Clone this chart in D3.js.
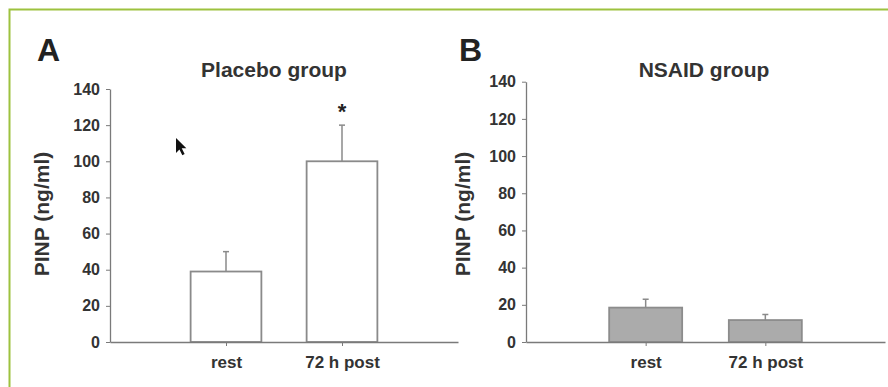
<!DOCTYPE html>
<head>
    <script src="https://d3js.org/d3.v7.min.js"></script>
</head>
<style>
body {
    margin: 0;
    background: #fff;
    font-family: "Liberation Sans", Arial, Helvetica, sans-serif;
}
text {
    font-weight: bold;
}
</style>
<body>
<svg></svg>
<script>

    // Data
    var categories = ["rest", "72 h post"];
    var placeboMean = [39, 100];
    var placeboErr = [11, 20];
    var nsaidMean = [18.5, 11.8];
    var nsaidErr = [4.5, 3];
    var yTicks = [0, 20, 40, 60, 80, 100, 120, 140];
    var significant = [false, true];

    var width = 888;
    var height = 387;

    var svg = d3.select('svg')
        .attr('width', width)
        .attr('height', height);

    // green frame (top and left edges only)
    svg.append('path')
        .attr('d', 'M9.5,' + height + 'V9.5H' + width)
        .attr('fill', 'none')
        .attr('stroke', '#9dc23f')
        .attr('stroke-width', 2);

    var panels = [
        { letter: "A", title: "Placebo group", mean: placeboMean, err: placeboErr,
          x0: 110, x1: 458, yTop: 89, yBot: 342, letterX: 37, titleX: 274, labelX: 49,
          fill: "#fff", stroke: "#8a8a8a", stars: significant },
        { letter: "B", title: "NSAID group", mean: nsaidMean, err: nsaidErr,
          x0: 526, x1: 885, yTop: 81.7, yBot: 342, letterX: 459, titleX: 704, labelX: 469.5,
          fill: "#ababab", stroke: "#8c8c8c", stars: [false, false] }
    ];

    panels.forEach(drawPanel);

    function drawPanel(p) {
        var g = svg.append('g');

        var x = d3.scalePoint()
            .domain(categories)
            .range([p.x0, p.x1])
            .padding(1);

        var y = d3.scaleLinear()
            .domain([0, 140])
            .range([p.yBot, p.yTop]);

        var bw = x.step() * 0.61;

        // y axis
        var ya = g.append('g')
            .attr('transform', 'translate(' + p.x0 + ',0)')
            .call(d3.axisLeft(y).tickValues(yTicks).tickSize(4).tickSizeOuter(0).tickPadding(6));
        ya.select('.domain').attr('stroke', '#7a7a7a').attr('stroke-width', 1.3);
        ya.selectAll('.tick line').attr('stroke', '#7a7a7a');
        ya.selectAll('.tick text')
            .attr('fill', '#333')
            .style('font-size', '16px')
            .style('font-family', '"Liberation Sans", Arial, sans-serif');

        // bars
        g.selectAll('rect.bar').data(p.mean).enter().append('rect')
            .attr('class', 'bar')
            .attr('x', function (d, i) { return x(categories[i]) - bw / 2; })
            .attr('y', function (d) { return y(d); })
            .attr('width', bw)
            .attr('height', function (d) { return y(0) - y(d); })
            .attr('fill', p.fill)
            .attr('stroke', p.stroke)
            .attr('stroke-width', 1.8);

        // error bars
        g.selectAll('line.err').data(p.mean).enter().append('line')
            .attr('class', 'err')
            .attr('x1', function (d, i) { return x(categories[i]); })
            .attr('x2', function (d, i) { return x(categories[i]); })
            .attr('y1', function (d) { return y(d); })
            .attr('y2', function (d, i) { return y(d + p.err[i]); })
            .attr('stroke', '#8a8a8a')
            .attr('stroke-width', 1.5);
        g.selectAll('line.cap').data(p.mean).enter().append('line')
            .attr('class', 'cap')
            .attr('x1', function (d, i) { return x(categories[i]) - 3; })
            .attr('x2', function (d, i) { return x(categories[i]) + 3; })
            .attr('y1', function (d, i) { return y(d + p.err[i]); })
            .attr('y2', function (d, i) { return y(d + p.err[i]); })
            .attr('stroke', '#8a8a8a')
            .attr('stroke-width', 1.5);

        // x axis
        var xa = g.append('g')
            .attr('transform', 'translate(0,' + p.yBot + ')')
            .call(d3.axisBottom(x).tickSize(4).tickSizeOuter(0).tickPadding(10));
        xa.select('.domain').attr('stroke', '#7a7a7a').attr('stroke-width', 1.3);
        xa.selectAll('.tick line').attr('stroke', '#7a7a7a');
        xa.selectAll('.tick text')
            .attr('fill', '#333')
            .style('font-size', '17px')
            .style('font-family', '"Liberation Sans", Arial, sans-serif');

        // significance stars
        g.selectAll('text.star').data(p.mean).enter()
            .filter(function (d, i) { return p.stars[i]; })
            .append('text')
            .attr('class', 'star')
            .attr('x', function (d, i) { return x(categories[1]); })
            .attr('y', function (d) { return y(d + p.err[1]) - 6; })
            .attr('text-anchor', 'middle')
            .attr('fill', '#222')
            .style('font-size', '22px')
            .text('*');

        // titles
        g.append('text')
            .attr('x', p.titleX)
            .attr('y', 77)
            .attr('text-anchor', 'middle')
            .attr('fill', '#333')
            .style('font-size', '21px')
            .text(p.title);

        g.append('text')
            .attr('x', p.letterX)
            .attr('y', 61)
            .attr('fill', '#222')
            .style('font-size', '32px')
            .text(p.letter);

        g.append('text')
            .attr('transform', 'translate(' + p.labelX + ',214)rotate(-90)')
            .attr('text-anchor', 'middle')
            .attr('fill', '#333')
            .style('font-size', '21px')
            .text('PINP (ng/ml)');
    }

    // mouse pointer captured in the figure
    svg.append('path')
        .attr('transform', 'translate(176,138) scale(1.15)')
        .attr('d', 'M0,0 L0,13 L3,10 L5.5,15 L7.5,14 L5,9 L9,9 Z')
        .attr('fill', '#111');

</script>
</body>
